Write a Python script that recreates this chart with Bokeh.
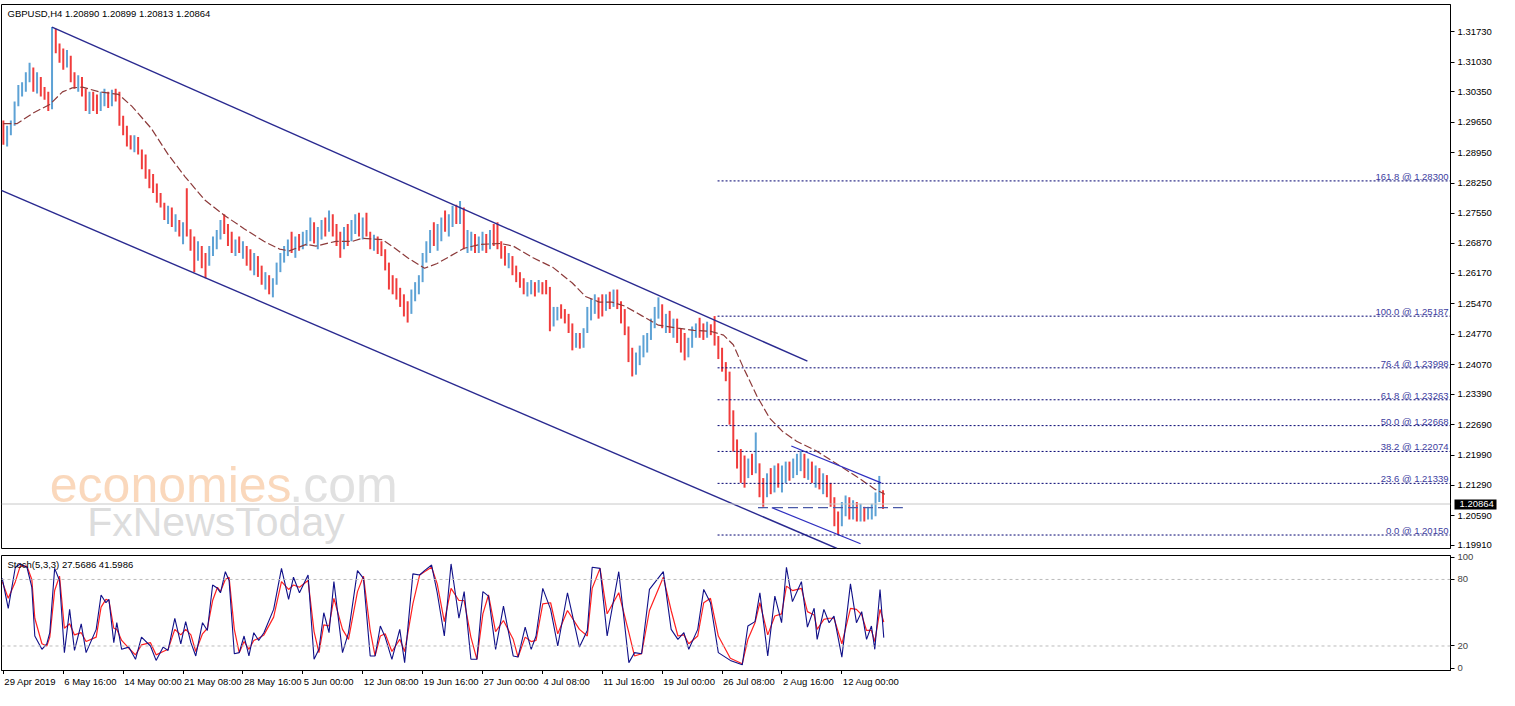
from bokeh.plotting import figure
from bokeh.models import (Range1d, FixedTicker, PrintfTickFormatter, Span, Label,
                          ColumnDataSource, LinearAxis)
from bokeh.layouts import column
from bokeh.embed import file_html
from bokeh.resources import INLINE

# ---------------- data (8-hour bars, index 0 = 29 Apr 2019 08:00) ----------------
bar_high = [
    1.2969, 1.2957, 1.2969, 1.3013, 1.3051, 1.3057, 1.3080, 1.3102, 1.3091, 1.3080,
    1.3069, 1.3046, 1.3035, 1.3184, 1.3180, 1.3146, 1.3135, 1.3131, 1.3118, 1.3080,
    1.3073, 1.3069, 1.3042, 1.3035, 1.3035, 1.3029, 1.3035, 1.3042, 1.3035, 1.3040,
    1.3042, 1.3035, 1.2980, 1.2957, 1.2935, 1.2935, 1.2931, 1.2902, 1.2891, 1.2857,
    1.2846, 1.2824, 1.2802, 1.2780, 1.2773, 1.2769, 1.2753, 1.2740, 1.2735, 1.2813,
    1.2719, 1.2702, 1.2691, 1.2680, 1.2664, 1.2680, 1.2702, 1.2717, 1.2740, 1.2753,
    1.2731, 1.2713, 1.2695, 1.2702, 1.2691, 1.2680, 1.2673, 1.2664, 1.2657, 1.2635,
    1.2620, 1.2613, 1.2606, 1.2642, 1.2664, 1.2680, 1.2695, 1.2713, 1.2702, 1.2708,
    1.2713, 1.2717, 1.2746, 1.2735, 1.2724, 1.2740, 1.2746, 1.2762, 1.2753, 1.2731,
    1.2713, 1.2724, 1.2731, 1.2740, 1.2753, 1.2757, 1.2746, 1.2757, 1.2713, 1.2706,
    1.2702, 1.2691, 1.2673, 1.2642, 1.2613, 1.2606, 1.2584, 1.2569, 1.2553, 1.2580,
    1.2597, 1.2613, 1.2664, 1.2691, 1.2717, 1.2735, 1.2731, 1.2746, 1.2762, 1.2753,
    1.2773, 1.2775, 1.2784, 1.2769, 1.2717, 1.2713, 1.2708, 1.2702, 1.2713, 1.2708,
    1.2717, 1.2731, 1.2735, 1.2691, 1.2680, 1.2664, 1.2657, 1.2635, 1.2620, 1.2606,
    1.2597, 1.2602, 1.2597, 1.2602, 1.2597, 1.2602, 1.2586, 1.2540, 1.2540, 1.2546,
    1.2535, 1.2524, 1.2502, 1.2480, 1.2480, 1.2491, 1.2540, 1.2558, 1.2569, 1.2562,
    1.2569, 1.2569, 1.2575, 1.2580, 1.2580, 1.2553, 1.2535, 1.2495, 1.2446, 1.2435,
    1.2451, 1.2475, 1.2480, 1.2513, 1.2540, 1.2562, 1.2546, 1.2524, 1.2531, 1.2513,
    1.2513, 1.2491, 1.2480, 1.2469, 1.2495, 1.2502, 1.2515, 1.2502, 1.2506, 1.2500,
    1.2519, 1.2473, 1.2446, 1.2413, 1.2391, 1.2302, 1.2235, 1.2213, 1.2198, 1.2191,
    1.2202, 1.2251, 1.2180, 1.2146, 1.2157, 1.2169, 1.2175, 1.2180, 1.2175, 1.2184,
    1.2184, 1.2191, 1.2202, 1.2209, 1.2202, 1.2191, 1.2184, 1.2175, 1.2169, 1.2157,
    1.2153, 1.2135, 1.2102, 1.2069, 1.2091, 1.2106, 1.2102, 1.2095, 1.2091, 1.2087,
    1.2080, 1.2080, 1.2087, 1.2113, 1.2151, 1.2118,
]
bar_low = [
    1.2913, 1.2909, 1.2935, 1.2957, 1.3002, 1.3024, 1.3035, 1.3057, 1.3035, 1.3031,
    1.3024, 1.3017, 1.2991, 1.2995, 1.3124, 1.3102, 1.3086, 1.3091, 1.3057, 1.3042,
    1.3035, 1.3024, 1.2991, 1.2984, 1.2991, 1.2984, 1.2991, 1.3002, 1.2998, 1.3002,
    1.3013, 1.2957, 1.2935, 1.2909, 1.2902, 1.2896, 1.2891, 1.2857, 1.2835, 1.2813,
    1.2802, 1.2780, 1.2769, 1.2740, 1.2731, 1.2724, 1.2713, 1.2702, 1.2684, 1.2702,
    1.2669, 1.2620, 1.2646, 1.2629, 1.2606, 1.2635, 1.2657, 1.2673, 1.2695, 1.2708,
    1.2680, 1.2664, 1.2657, 1.2664, 1.2651, 1.2635, 1.2624, 1.2613, 1.2609, 1.2591,
    1.2580, 1.2569, 1.2562, 1.2591, 1.2620, 1.2642, 1.2657, 1.2664, 1.2653, 1.2669,
    1.2673, 1.2680, 1.2691, 1.2686, 1.2673, 1.2695, 1.2702, 1.2713, 1.2702, 1.2680,
    1.2653, 1.2673, 1.2680, 1.2691, 1.2708, 1.2702, 1.2695, 1.2702, 1.2673, 1.2669,
    1.2662, 1.2657, 1.2624, 1.2580, 1.2569, 1.2557, 1.2540, 1.2518, 1.2504, 1.2524,
    1.2553, 1.2569, 1.2597, 1.2642, 1.2664, 1.2680, 1.2669, 1.2691, 1.2713, 1.2702,
    1.2724, 1.2731, 1.2731, 1.2673, 1.2664, 1.2669, 1.2664, 1.2664, 1.2669, 1.2664,
    1.2673, 1.2680, 1.2673, 1.2651, 1.2635, 1.2629, 1.2613, 1.2597, 1.2584, 1.2569,
    1.2564, 1.2569, 1.2564, 1.2573, 1.2569, 1.2569, 1.2484, 1.2495, 1.2509, 1.2513,
    1.2502, 1.2480, 1.2440, 1.2446, 1.2444, 1.2446, 1.2480, 1.2509, 1.2524, 1.2513,
    1.2518, 1.2531, 1.2535, 1.2540, 1.2535, 1.2502, 1.2475, 1.2413, 1.2380, 1.2384,
    1.2406, 1.2424, 1.2435, 1.2464, 1.2491, 1.2513, 1.2491, 1.2480, 1.2480, 1.2469,
    1.2457, 1.2435, 1.2417, 1.2424, 1.2446, 1.2469, 1.2469, 1.2464, 1.2469, 1.2475,
    1.2451, 1.2420, 1.2391, 1.2369, 1.2269, 1.2207, 1.2168, 1.2135, 1.2124, 1.2146,
    1.2153, 1.2157, 1.2102, 1.2080, 1.2102, 1.2109, 1.2113, 1.2124, 1.2113, 1.2135,
    1.2140, 1.2146, 1.2153, 1.2162, 1.2146, 1.2142, 1.2135, 1.2124, 1.2120, 1.2109,
    1.2102, 1.2080, 1.2035, 1.2015, 1.2035, 1.2058, 1.2051, 1.2051, 1.2046, 1.2046,
    1.2046, 1.2051, 1.2051, 1.2058, 1.2091, 1.2075,
]
bar_close = [
    1.2935, 1.2946, 1.2962, 1.3006, 1.3035, 1.3042, 1.3069, 1.3086, 1.3046, 1.3069,
    1.3035, 1.3029, 1.3024, 1.3157, 1.3135, 1.3113, 1.3102, 1.3118, 1.3069, 1.3057,
    1.3064, 1.3035, 1.3002, 1.3024, 1.3013, 1.3002, 1.3024, 1.3029, 1.3006, 1.3033,
    1.3024, 1.2969, 1.2946, 1.2924, 1.2913, 1.2924, 1.2902, 1.2869, 1.2846, 1.2824,
    1.2813, 1.2791, 1.2775, 1.2753, 1.2762, 1.2735, 1.2740, 1.2713, 1.2724, 1.2713,
    1.2680, 1.2657, 1.2664, 1.2646, 1.2635, 1.2669, 1.2691, 1.2708, 1.2724, 1.2717,
    1.2691, 1.2680, 1.2686, 1.2669, 1.2673, 1.2646, 1.2635, 1.2651, 1.2620, 1.2602,
    1.2606, 1.2584, 1.2591, 1.2629, 1.2657, 1.2669, 1.2686, 1.2673, 1.2691, 1.2680,
    1.2702, 1.2708, 1.2724, 1.2695, 1.2702, 1.2731, 1.2713, 1.2746, 1.2717, 1.2691,
    1.2680, 1.2713, 1.2695, 1.2731, 1.2740, 1.2713, 1.2731, 1.2708, 1.2691, 1.2695,
    1.2680, 1.2664, 1.2635, 1.2597, 1.2580, 1.2569, 1.2551, 1.2535, 1.2524, 1.2569,
    1.2584, 1.2602, 1.2651, 1.2680, 1.2702, 1.2691, 1.2702, 1.2735, 1.2724, 1.2740,
    1.2757, 1.2746, 1.2769, 1.2691, 1.2691, 1.2702, 1.2680, 1.2691, 1.2702, 1.2680,
    1.2702, 1.2695, 1.2686, 1.2664, 1.2646, 1.2657, 1.2620, 1.2613, 1.2591, 1.2580,
    1.2584, 1.2591, 1.2580, 1.2591, 1.2584, 1.2580, 1.2502, 1.2524, 1.2531, 1.2524,
    1.2518, 1.2491, 1.2457, 1.2469, 1.2451, 1.2480, 1.2524, 1.2540, 1.2553, 1.2546,
    1.2540, 1.2558, 1.2546, 1.2569, 1.2546, 1.2513, 1.2491, 1.2429, 1.2391, 1.2424,
    1.2442, 1.2464, 1.2469, 1.2502, 1.2531, 1.2535, 1.2513, 1.2513, 1.2491, 1.2502,
    1.2473, 1.2451, 1.2435, 1.2457, 1.2480, 1.2491, 1.2484, 1.2480, 1.2495, 1.2491,
    1.2464, 1.2435, 1.2402, 1.2380, 1.2291, 1.2224, 1.2202, 1.2180, 1.2157, 1.2180,
    1.2162, 1.2169, 1.2124, 1.2113, 1.2146, 1.2135, 1.2162, 1.2146, 1.2157, 1.2169,
    1.2157, 1.2175, 1.2184, 1.2191, 1.2169, 1.2180, 1.2153, 1.2157, 1.2135, 1.2146,
    1.2118, 1.2091, 1.2051, 1.2035, 1.2080, 1.2091, 1.2069, 1.2080, 1.2058, 1.2069,
    1.2058, 1.2064, 1.2069, 1.2102, 1.2113, 1.20864,
]

# moving average (dashed) read at bar positions
ma_t = [0, 3.7, 7.9, 12.4, 15.8, 18.4, 21.1, 25.6, 30.8, 34.3, 39.5, 44.0, 48.5, 53.8,
        59.0, 64.3, 69.6, 73.8, 76.4, 80.9, 83.5, 88.8, 93.3, 95.9, 101.2, 104.6, 108.0,
        112.5, 115.9, 119.6, 123.1, 127.5, 132.8, 136.2, 141.5, 146.8, 152.0, 155.5,
        159.2, 162.6, 166.0, 170.5, 175.0, 180.2, 184.5, 188.9, 192.4, 195.0, 197.6,
        201.3, 204.7, 208.2, 211.9, 217.1, 222.4, 227.7, 232.9, 235.5]
ma_p = [1.2962, 1.2962, 1.2986, 1.3006, 1.3035, 1.3044, 1.3046, 1.3035, 1.3029, 1.3002,
        1.2951, 1.2891, 1.2840, 1.2786, 1.2751, 1.2720, 1.2691, 1.2673, 1.2669, 1.2684,
        1.2680, 1.2691, 1.2691, 1.2698, 1.2695, 1.2675, 1.2653, 1.2629, 1.2640, 1.2658,
        1.2675, 1.2684, 1.2686, 1.2680, 1.2653, 1.2631, 1.2595, 1.2564, 1.2551, 1.2551,
        1.2542, 1.2520, 1.2498, 1.2491, 1.2486, 1.2484, 1.2475, 1.2453, 1.2402, 1.2335,
        1.2284, 1.2253, 1.2231, 1.2209, 1.2180, 1.2151, 1.2120, 1.2109]

# channels and lines (time index, price)
chan_up_t, chan_up_p = [13.0, 214.8], [1.3184, 1.2415]
chan_lo_t, chan_lo_p = [-0.8, 222.7], [1.2809, 1.1984]
small_up_t, small_up_p = [210.5, 234.5], [1.2220, 1.2135]
small_lo_t, small_lo_p = [205.3, 229.0], [1.2078, 1.1995]
hline_t, hline_p = [201.6, 240.3], [1.2078, 1.2078]

# Fibonacci levels
fib_start = 190.8
fib_levels = ["161.8", "100.0", "76.4", "61.8", "50.0", "38.2", "23.6", "0.0"]
fib_prices = [1.28300, 1.25187, 1.23998, 1.23263, 1.22668, 1.22074, 1.21339, 1.20150]

# axes
price_ticks = [1.31730, 1.31030, 1.30350, 1.29650, 1.28950, 1.28250, 1.27550, 1.26870,
               1.26170, 1.25470, 1.24770, 1.24070, 1.23390, 1.22690, 1.21990, 1.21290,
               1.20590, 1.19910]
date_ticks = [0, 16, 32, 48, 64, 80, 96, 112, 128, 144, 160, 176, 192, 208, 224]
date_labels = ["29 Apr 2019", "6 May 16:00", "14 May 00:00", "21 May 08:00", "28 May 16:00",
               "5 Jun 00:00", "12 Jun 08:00", "19 Jun 16:00", "27 Jun 00:00", "4 Jul 08:00",
               "11 Jul 16:00", "19 Jul 00:00", "26 Jul 08:00", "2 Aug 16:00", "12 Aug 00:00"]
stoch_ticks = [0, 20, 80, 100]

# stochastic (5,3,3)
stoch_t = [-0.3, 1.3, 3.2, 4.5, 6.3, 7.6, 8.4, 10.3, 11.6, 12.4, 13.7, 15.0, 16.3, 17.7, 19.0,
           20.8, 22.1, 24.8, 26.1, 27.4, 28.2, 29.5, 30.3, 31.6, 33.5, 35.3, 36.9, 39.3, 40.8,
           42.7, 44.0, 45.8, 47.4, 48.7, 50.1, 51.4, 53.2, 54.5, 55.9, 57.2, 58.0, 59.3, 60.3,
           61.7, 63.0, 64.3, 65.6, 66.9, 68.2, 69.6, 72.2, 74.3, 76.2, 77.5, 79.1, 81.4, 83.0,
           84.3, 85.6, 87.0, 88.3, 90.6, 92.2, 94.6, 96.2, 98.0, 99.3, 100.7, 102.0, 103.8,
           105.9, 107.2, 109.4, 111.2, 112.5, 114.4, 115.9, 117.8, 119.6, 121.7, 123.1, 124.9,
           126.5, 128.1, 129.6, 131.5, 133.6, 136.2, 137.5, 139.4, 141.0, 142.3, 144.1, 146.2,
           148.1, 150.7, 153.9, 156.0, 157.3, 159.4, 161.3, 164.4, 167.1, 168.6, 170.5, 172.6,
           176.3, 178.4, 180.2, 181.8, 183.1, 185.5, 187.1, 188.9, 191.0, 194.2, 197.4, 198.9,
           200.8, 202.1, 204.2, 206.1, 207.9, 209.2, 210.8, 213.2, 214.8, 216.6, 217.4, 219.2,
           220.6, 221.9, 224.0, 226.3, 227.9, 229.3, 230.6, 231.9, 232.8, 234.2, 235.2]
stoch_main = [81, 54, 91, 94, 91, 73, 29, 17, 22, 32, 90, 79, 14, 53, 16, 40, 14, 35, 66, 59,
              62, 23, 41, 17, 19, 8, 28, 20, 7, 19, 16, 45, 22, 42, 23, 11, 41, 34, 75, 72,
              68, 87, 79, 13, 14, 29, 11, 32, 25, 32, 53, 90, 62, 82, 68, 84, 8, 17, 50, 32,
              78, 14, 32, 88, 81, 11, 11, 38, 28, 8, 35, 5, 85, 84, 88, 93, 68, 29, 94, 45,
              69, 8, 8, 69, 65, 17, 56, 11, 10, 37, 17, 29, 72, 53, 20, 68, 19, 34, 91, 90,
              29, 87, 5, 14, 13, 71, 87, 35, 26, 32, 17, 35, 71, 59, 14, 7, 3, 38, 42, 68,
              11, 65, 41, 91, 60, 78, 37, 54, 26, 53, 41, 47, 10, 76, 41, 51, 26, 38, 17, 71,
              27.5686]
stoch_signal = [78, 63, 78, 92, 92, 80, 45, 22, 20, 28, 70, 83, 36, 40, 30, 32, 24, 28, 55, 62,
                61, 36, 35, 25, 18, 12, 21, 23, 12, 15, 17, 35, 30, 35, 30, 15, 31, 36, 61, 73,
                69, 80, 82, 35, 14, 24, 17, 25, 27, 30, 46, 78, 71, 75, 73, 79, 33, 14, 39, 38,
                63, 35, 26, 69, 83, 34, 11, 29, 31, 15, 26, 15, 58, 84, 87, 91, 76, 42, 72, 61,
                61, 28, 8, 49, 66, 33, 43, 26, 10, 28, 24, 25, 58, 59, 31, 52, 35, 29, 72, 90,
                49, 68, 32, 11, 13, 52, 82, 52, 29, 30, 22, 29, 59, 63, 29, 9, 4, 26, 41, 59,
                30, 47, 49, 74, 70, 72, 51, 48, 35, 44, 45, 45, 22, 54, 53, 48, 34, 34, 24, 53,
                41.5986]

# ---------------- styling / layout ----------------
FONT = "Liberation Sans"
FS = "9.5px"
BLUE_BAR = "#5da2d5"
RED_BAR = "#f03c3c"
X_LO, X_HI = -0.5, 386.6
Y_LO, Y_HI = 1.1984, 1.3236
S_LO, S_HI = -2.1, 101.6
W = 1498
BL, BR = 1, 48

bar_t = list(range(len(bar_close)))
bar_colors = [BLUE_BAR if (i > 0 and bar_close[i] >= bar_close[i - 1]) else RED_BAR
              for i in range(len(bar_close))]
bars = ColumnDataSource(dict(t=bar_t, hi=bar_high, lo=bar_low, c=bar_colors))

p1 = figure(width=W, height=550, x_range=Range1d(X_LO, X_HI), y_range=Range1d(Y_LO, Y_HI),
            x_axis_location=None, y_axis_location="right", output_backend="svg",
            toolbar_location=None, min_border_left=BL, min_border_right=BR,
            min_border_top=4, min_border_bottom=2)
p1.outline_line_color = "black"
p1.outline_line_width = 1
p1.grid.visible = False
p1.background_fill_color = "white"
p1.border_fill_color = "white"

yax = p1.yaxis[0]
yax.ticker = FixedTicker(ticks=price_ticks)
yax.formatter = PrintfTickFormatter(format="%.5f")
yax.major_label_text_font = FONT
yax.major_label_text_font_size = FS
yax.major_label_text_color = "black"
yax.major_tick_in = 0
yax.major_tick_out = 4
yax.minor_tick_line_color = None
yax.major_label_standoff = 3
yax.axis_line_color = "black"

last_close = bar_close[-1]
p1.add_layout(Span(location=last_close, dimension="width", line_color="#c8c8c8", line_width=1))

# current-price tag: a second right axis whose single thick tick forms the black box
tag_axis = LinearAxis(ticker=FixedTicker(ticks=[last_close]),
                      formatter=PrintfTickFormatter(format="%.5f"),
                      axis_line_color=None, minor_tick_line_color=None,
                      major_tick_in=40, major_tick_out=2, major_tick_line_width=10,
                      major_tick_line_color="black", major_label_standoff=-37,
                      major_label_text_color="white", major_label_text_font=FONT,
                      major_label_text_font_size=FS)
p1.add_layout(tag_axis, "right")

# watermark
p1.add_layout(Label(x=12.4, y=1.2131, text="economies", text_font=FONT, text_font_size="50px",
                    text_color="#f6b27a", text_alpha=0.5, text_baseline="alphabetic"))
p1.add_layout(Label(x=76.4, y=1.2131, text=".com", text_font=FONT, text_font_size="50px",
                    text_color="#c8c8c8", text_alpha=0.55, text_baseline="alphabetic"))
p1.add_layout(Label(x=22.4, y=1.2046, text="FxNewsToday", text_font=FONT, text_font_size="41px",
                    text_color="#c0c0c0", text_alpha=0.55, text_baseline="alphabetic"))

# bars
p1.segment(x0="t", y0="lo", x1="t", y1="hi", line_color="c", line_width=2, source=bars)

# moving average
p1.line(ma_t, ma_p, line_color="#8c3a3a", line_width=1.2, line_dash="8 3")

# channels
p1.line(chan_up_t, chan_up_p, line_color="#2a2a90", line_width=1.4)
p1.line(chan_lo_t, chan_lo_p, line_color="#2a2a90", line_width=1.4)
p1.line(small_up_t, small_up_p, line_color="#2f2fc0", line_width=1.2)
p1.line(small_lo_t, small_lo_p, line_color="#2f2fc0", line_width=1.2)
p1.line(hline_t, hline_p, line_color="#4a5aa8", line_width=1.3, line_dash="10 5")

# fibonacci
p1.ray(x=[fib_start] * len(fib_prices), y=fib_prices, length=0, angle=0,
       line_color="#000070", line_width=1, line_dash="2 2")
fib_text = ["%s @ %.5f" % (lv, pr) for lv, pr in zip(fib_levels, fib_prices)]
p1.text(x=[X_HI] * len(fib_prices), y=fib_prices, text=fib_text, text_align="right",
        text_baseline="bottom", text_font_size=FS, text_color="#3c3ca0",
        x_offset=-2, y_offset=1, text_font={"value": FONT})

# header
p1.add_layout(Label(x=X_LO, y=Y_HI, x_offset=6, y_offset=-3, text_baseline="top",
                    text="GBPUSD,H4  1.20890 1.20899 1.20813 1.20864",
                    text_font=FONT, text_font_size=FS, text_color="black"))

# ---------------- stochastic panel ----------------
p2 = figure(width=W, height=124, x_range=p1.x_range, y_range=Range1d(S_LO, S_HI),
            y_axis_location="right", output_backend="svg", toolbar_location=None,
            min_border_left=BL, min_border_right=BR, min_border_top=5, min_border_bottom=0)
p2.outline_line_color = "black"
p2.grid.visible = False
p2.background_fill_color = "white"

for lvl in (20, 80):
    p2.add_layout(Span(location=lvl, dimension="width", line_color="#bcbcbc",
                       line_width=1, line_dash="3 3"))

p2.line(stoch_t, stoch_signal, line_color="#ff2020", line_width=1.2)
p2.line(stoch_t, stoch_main, line_color="#101088", line_width=1.1)

sy = p2.yaxis[0]
sy.ticker = FixedTicker(ticks=stoch_ticks)
sy.major_label_text_font = FONT
sy.major_label_text_font_size = FS
sy.major_tick_in = 0
sy.major_tick_out = 4
sy.minor_tick_line_color = None
sy.major_label_standoff = 3

sx = p2.xaxis[0]
sx.ticker = FixedTicker(ticks=date_ticks)
sx.major_label_overrides = {t: "" for t in date_ticks}
sx.major_label_text_font_size = "1px"
sx.major_tick_in = 0
sx.major_tick_out = 4
sx.minor_tick_line_color = None
sx.major_label_standoff = 0

p2.add_layout(Label(x=X_LO, y=S_HI, x_offset=6, y_offset=-3, text_baseline="top",
                    text="Stoch(5,3,3) 27.5686 41.5986", text_font=FONT,
                    text_font_size=FS, text_color="black"))

# ---------------- time labels strip (left-aligned at each tick, as in MT4) ----------------
p3 = figure(width=W, height=16, x_range=p1.x_range, y_range=Range1d(0, 1),
            x_axis_location=None, y_axis_location=None, output_backend="svg",
            toolbar_location=None, min_border_left=BL, min_border_right=BR,
            min_border_top=0, min_border_bottom=0)
p3.outline_line_color = None
p3.grid.visible = False
p3.text(x=date_ticks, y=[1] * len(date_ticks), text=date_labels, text_align="left",
        text_baseline="top", text_font_size=FS, text_color="black", x_offset=1, y_offset=1,
        text_font={"value": FONT})

layout = column(p1, p2, p3, spacing=0)
open("out.html", "w").write(file_html(layout, INLINE))
